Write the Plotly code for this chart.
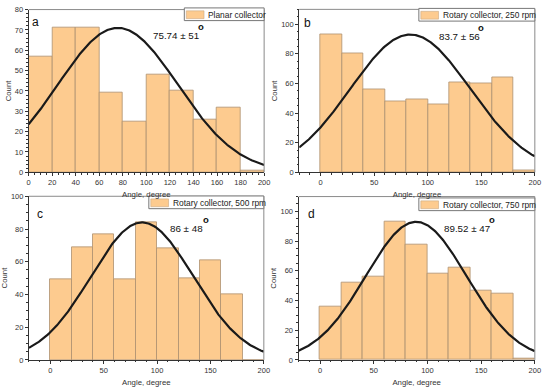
import numpy as np
import plotly.graph_objects as go

W, H = 550, 391

# ---------------- data ----------------
bin_centers = [10, 30, 50, 70, 90, 110, 130, 150, 170, 190]
counts_a = [57, 71, 71, 39, 25, 48, 40, 26, 32, 1]
counts_b = [93, 80, 56, 48, 49, 46, 61, 60, 64, 1]
counts_c = [49, 69, 77, 49, 84, 68, 50, 61, 40, 0]
counts_d = [36, 52, 56, 93, 78, 58, 62, 47, 45, 1]

fit_means = [75.74, 83.7, 86, 89.52]
fit_sds = [51, 56, 48, 47]
fit_peaks = [71, 93, 84, 93]

legend_names = ["Planar collector", "Rotary collector, 250 rpm",
                "Rotary collector, 500 rpm", "Rotary collector, 750 rpm"]
stat_labels = ["75.74 ± 51", "83.7 ± 56", "86 ± 48", "89.52 ± 47"]
panel_letters = ["a", "b", "c", "d"]

x_ranges = [[0, 200], [-20, 200], [-20, 200], [-20, 200]]
y_ranges = [[0, 80], [0, 110], [0, 100], [0, 110]]
x_dticks = [20, 50, 50, 50]
y_dticks = [10, 20, 20, 20]
all_counts = [counts_a, counts_b, counts_c, counts_d]

# ---------------- layout (pixels) ----------------
def px(x):
    return x / W

def py(y):
    return 1 - y / H

# plot areas: (left, right, top, bottom) in pixels
areas = [
    (27.0, 266.0, 5.7, 172.3),
    (301.6, 540.7, 5.5, 172.3),
    (27.3, 265.7, 196.8, 364.3),
    (300.9, 540.7, 197.1, 364.3),
]

BAR_FILL = "#FDCB8F"
BAR_EDGE = "#AD9070"
FONT = "Liberation Sans, Arial, sans-serif"

fig = go.Figure()
layout = dict(
    width=W, height=H, margin=dict(l=0, r=0, t=0, b=0),
    paper_bgcolor="white", plot_bgcolor="white", showlegend=False,
    bargap=0, font=dict(family=FONT, color="#222"),
)
shapes = []
annotations = []

for i in range(4):
    sfx = "" if i == 0 else str(i + 1)
    xa, ya = "x" + sfx, "y" + sfx
    l, r, t, b = areas[i]
    fig.add_trace(go.Bar(
        x=bin_centers, y=all_counts[i], width=20,
        marker=dict(color=BAR_FILL, line=dict(color=BAR_EDGE, width=0.8)),
        xaxis=xa, yaxis=ya, name=legend_names[i],
    ))
    xs = np.linspace(x_ranges[i][0], x_ranges[i][1], 300)
    ys = fit_peaks[i] * np.exp(-(xs - fit_means[i]) ** 2 / (2 * fit_sds[i] ** 2))
    fig.add_trace(go.Scatter(
        x=xs, y=ys, mode="lines", line=dict(color="#1a1a1a", width=2.2),
        xaxis=xa, yaxis=ya, hoverinfo="skip",
    ))
    axis_common = dict(
        showgrid=False, zeroline=False, showline=True, linecolor="#333",
        linewidth=1, ticks="outside", ticklen=3, tickcolor="#333",
        tickfont=dict(size=7.5, color="#333"),
        minor=dict(ticks="outside", ticklen=1.5, tickcolor="#333"),
    )
    layout["xaxis" + sfx] = dict(
        axis_common, domain=[px(l), px(r)], range=x_ranges[i], anchor=ya,
        dtick=x_dticks[i], tick0=0,
        title=dict(text="Angle, degree", font=dict(size=7.8, color="#333"), standoff=5),
    )
    layout["yaxis" + sfx] = dict(
        axis_common, domain=[py(b), py(t)], range=y_ranges[i], anchor=xa,
        dtick=y_dticks[i], tick0=0,
        title=dict(text="Count", font=dict(size=7.8, color="#333"), standoff=2),
    )
    # top / right frame lines (lighter)
    shapes.append(dict(type="line", xref="paper", yref="paper",
                       x0=px(l), x1=px(r), y0=py(t), y1=py(t),
                       line=dict(color="#8a8a8a", width=1)))
    shapes.append(dict(type="line", xref="paper", yref="paper",
                       x0=px(r), x1=px(r), y0=py(t), y1=py(b),
                       line=dict(color="#8a8a8a", width=1)))

# legends (drawn boxes + text)
leg_boxes = [  # left, right, top of box in pixels
    (185, 266, 4.0),
    (423, 540.7, 4.5),
    (149, 265.7, 196.5),
    (423, 540.7, 198.5),
]
for i, (l, r, t) in enumerate(leg_boxes):
    bh = 13
    shapes.append(dict(type="rect", xref="paper", yref="paper",
                       x0=px(l), x1=px(r), y0=py(t + bh), y1=py(t),
                       line=dict(color="#777", width=1), fillcolor="white"))
    shapes.append(dict(type="rect", xref="paper", yref="paper",
                       x0=px(l + 2), x1=px(l + 20), y0=py(t + 11), y1=py(t + 3),
                       line=dict(color="#C9A882", width=0.6), fillcolor=BAR_FILL))
    annotations.append(dict(text=legend_names[i], xref="paper", yref="paper",
                            x=px(l + 22.5), y=py(t + 7), xanchor="left", yanchor="middle",
                            showarrow=False, font=dict(size=8.4, color="#222")))

# mean ± sd labels
stat_pos = [(151, 32), (441, 33), (168.5, 229.5), (446, 229.5)]
deg_pos = [(202, 23), (486.5, 24.5), (207, 221), (497.7, 221)]
for i in range(4):
    annotations.append(dict(text=stat_labels[i], xref="paper", yref="paper",
                            x=px(stat_pos[i][0]), y=py(stat_pos[i][1]),
                            xanchor="left", yanchor="middle", showarrow=False,
                            font=dict(size=9.8, color="#111")))
    annotations.append(dict(text="<b>o</b>", xref="paper", yref="paper",
                            x=px(deg_pos[i][0]), y=py(deg_pos[i][1]),
                            xanchor="center", yanchor="middle", showarrow=False,
                            font=dict(size=9.5, color="#111")))

# panel letters
letter_pos = [(34.5, 18.5), (310, 19.5), (39, 214.5), (314, 214.5)]
for i in range(4):
    annotations.append(dict(text=panel_letters[i], xref="paper", yref="paper",
                            x=px(letter_pos[i][0]), y=py(letter_pos[i][1]),
                            xanchor="center", yanchor="middle", showarrow=False,
                            font=dict(size=12, color="#111")))

layout["shapes"] = shapes
layout["annotations"] = annotations
fig.update_layout(**layout)
fig.write_html("out.html", config={"displayModeBar": False},
               post_script="document.body.style.margin='0';document.body.style.overflow='hidden';")
